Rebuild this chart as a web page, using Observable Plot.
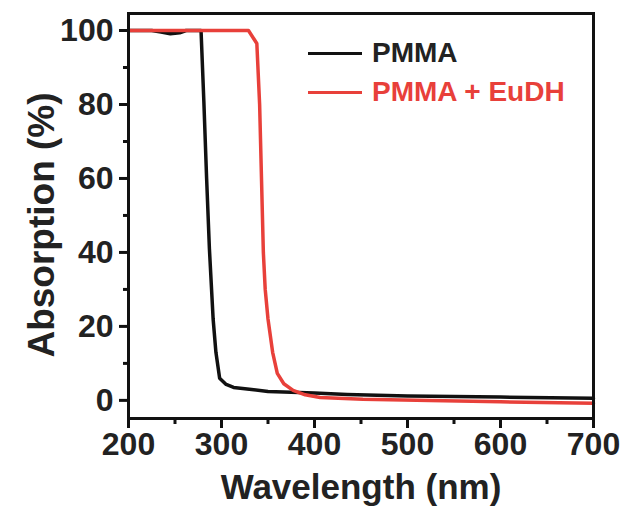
<!DOCTYPE html>
<html>
<head>
<meta charset="utf-8">
<script src="https://cdn.jsdelivr.net/npm/d3@7"></script>
<script src="https://cdn.jsdelivr.net/npm/@observablehq/plot@0.6"></script>
<style>
  body { margin: 0; background: #fff; }
  #wrap { position: relative; width: 626px; height: 512px; font-family: "Liberation Sans", Arial, sans-serif; }
  .leg { position: absolute; display: flex; align-items: center; font-weight: bold; font-size: 28px; white-space: nowrap; }
  .leg .sw { width: 54px; height: 3px; margin-right: 10px; }
</style>
</head>
<body>
<div id="wrap"></div>
<script>
// Data (wavelength in nm, absorption in %)
const pmmaWl  = [200, 225, 235, 245, 255, 262, 278, 281, 284, 287, 291, 294, 298, 305, 313, 330, 350, 375, 400, 435, 500, 525, 600, 700];
const pmmaAbs = [100, 100, 99.6, 99.1, 99.4, 100, 100, 81, 60, 41, 22, 13, 6, 4.3, 3.5, 3, 2.4, 2.2, 2, 1.6, 1.2, 1.1, 0.9, 0.6];
const euWl    = [200, 329, 338, 341, 343, 345, 347, 350, 355, 360, 367, 377, 390, 406, 452, 524, 600, 700];
const euAbs   = [100, 100, 96.5, 80, 60, 40, 30, 22, 13, 7.3, 4.5, 2.7, 1.5, 0.8, 0.3, 0, -0.4, -0.8];

const seriesNames = ["PMMA", "PMMA + EuDH"];
const seriesColors = ["#111111", "#e8403a"];

const xTicks = [200, 300, 400, 500, 600, 700];
const xMinorTicks = [250, 350, 450, 550, 650];
const yTicks = [0, 20, 40, 60, 80, 100];
const yMinorTicks = [10, 30, 50, 70, 90];
const xTitle = "Wavelength (nm)";
const yTitle = "Absorption (%)";

const pmma = pmmaWl.map((w, i) => ({wl: w, abs: pmmaAbs[i]}));
const eu = euWl.map((w, i) => ({wl: w, abs: euAbs[i]}));

const textColor = "#222";

const chart = Plot.plot({
  width: 626,
  height: 512,
  marginLeft: 128,
  marginRight: 33,
  marginTop: 13,
  marginBottom: 94,
  style: {fontFamily: "'Liberation Sans', Arial, sans-serif", fontWeight: "bold", color: textColor, background: "#fff"},
  x: {domain: [200, 700]},
  y: {domain: [-4.9, 104.6]},
  marks: [
    Plot.line(pmma, {x: "wl", y: "abs", stroke: seriesColors[0], strokeWidth: 3.5}),
    Plot.line(eu, {x: "wl", y: "abs", stroke: seriesColors[1], strokeWidth: 3.5}),
    Plot.frame({stroke: "#111", strokeWidth: 3}),
    Plot.axisX({ticks: xTicks, tickSize: 10, tickPadding: 4, strokeWidth: 3, stroke: "#111", fontSize: 32, fill: textColor, tickFormat: d => String(d), label: null}),
    Plot.axisX({ticks: xMinorTicks, tickSize: 6, strokeWidth: 3, stroke: "#111", tickFormat: () => "", label: null}),
    Plot.axisY({ticks: yTicks, tickSize: 9, tickPadding: 6, strokeWidth: 3, stroke: "#111", fontSize: 32, fill: textColor, tickFormat: d => String(d), label: null}),
    Plot.axisY({ticks: yMinorTicks, tickSize: 5, strokeWidth: 3, stroke: "#111", tickFormat: () => "", label: null}),
    Plot.text([xTitle], {frameAnchor: "bottom", dy: 69, text: d => d, fontSize: 35, fill: textColor, lineAnchor: "middle", textAnchor: "middle"}),
    Plot.text([yTitle], {frameAnchor: "left", dx: -86, dy: 9, rotate: -90, text: d => d, fontSize: 37, fill: textColor, lineAnchor: "middle", textAnchor: "middle"})
  ]
});

const wrap = document.getElementById("wrap");
wrap.appendChild(chart);

// Legend (inside plot, upper right)
const legendTops = [53, 92];
seriesNames.forEach((name, i) => {
  const item = document.createElement("div");
  item.className = "leg";
  item.style.left = "308px";
  item.style.top = (legendTops[i] - 16) + "px";
  item.style.height = "32px";
  item.style.color = i === 0 ? textColor : seriesColors[i];
  const sw = document.createElement("span");
  sw.className = "sw";
  sw.style.background = seriesColors[i];
  const lb = document.createElement("span");
  lb.textContent = name;
  item.appendChild(sw);
  item.appendChild(lb);
  wrap.appendChild(item);
});
</script>
</body>
</html>
